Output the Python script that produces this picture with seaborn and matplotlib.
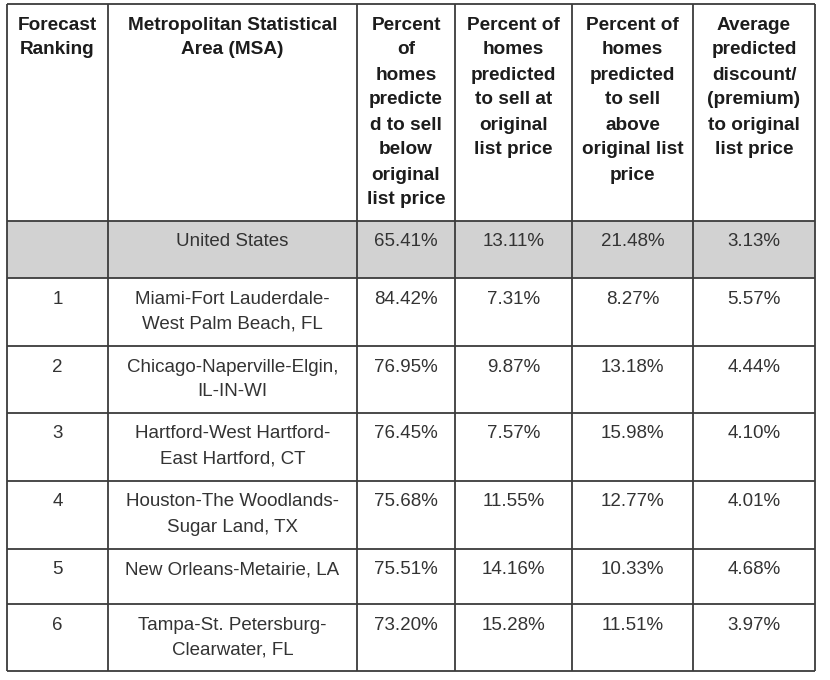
import matplotlib
matplotlib.use("Agg")
import matplotlib.pyplot as plt
import seaborn as sns

# -----------------------------
# Table data
# -----------------------------
headers = [
    "Forecast\nRanking",
    "Metropolitan Statistical\nArea (MSA)",
    "Percent\nof\nhomes\npredicte\nd to sell\nbelow\noriginal\nlist price",
    "Percent of\nhomes\npredicted\nto sell at\noriginal\nlist price",
    "Percent of\nhomes\npredicted\nto sell\nabove\noriginal list\nprice",
    "Average\npredicted\ndiscount/\n(premium)\nto original\nlist price",
]
rankings = ["", "1", "2", "3", "4", "5", "6"]
msas = [
    "United States",
    "Miami-Fort Lauderdale-\nWest Palm Beach, FL",
    "Chicago-Naperville-Elgin,\nIL-IN-WI",
    "Hartford-West Hartford-\nEast Hartford, CT",
    "Houston-The Woodlands-\nSugar Land, TX",
    "New Orleans-Metairie, LA",
    "Tampa-St. Petersburg-\nClearwater, FL",
]
pct_below = [65.41, 84.42, 76.95, 76.45, 75.68, 75.51, 73.20]
pct_at = [13.11, 7.31, 9.87, 7.57, 11.55, 14.16, 15.28]
pct_above = [21.48, 8.27, 13.18, 15.98, 12.77, 10.33, 11.51]
avg_discount = [3.13, 5.57, 4.44, 4.10, 4.01, 4.68, 3.97]

# -----------------------------
# Layout (pixels)
# -----------------------------
col_edges = [7, 108, 357, 455, 572, 693, 815]
row_edges = [4, 221, 278, 346, 413, 481, 549, 604, 671]
line_step = 25
first_line = 21

sns.set_theme(style="white")
plt.rcParams["font.family"] = ["Liberation Sans", "DejaVu Sans"]

fig = plt.figure(figsize=(8.3, 6.8), dpi=100)
ax = fig.add_axes([0, 0, 1, 1])
ax.set_xlim(0, 830)
ax.set_ylim(680, 0)
ax.axis("off")

# shaded US row
ax.fill_between([col_edges[0], col_edges[-1]], row_edges[1], row_edges[2],
                color="#d2d2d2", zorder=0, linewidth=0)

# grid lines
line_kw = dict(color="#3c3c3c", linewidth=1.3, zorder=2)
ax.hlines(row_edges, col_edges[0], col_edges[-1], **line_kw)
ax.vlines(col_edges, row_edges[0], row_edges[-1], **line_kw)

centers = [(a + b) / 2 for a, b in zip(col_edges[:-1], col_edges[1:])]


def put_cell(col, top, text, bold=False, color="#333333", size=13.5):
    for i, line in enumerate(text.split("\n")):
        ax.text(centers[col], top + first_line + i * line_step, line,
                ha="center", va="center", fontsize=size, color=color,
                fontweight="bold" if bold else "normal", zorder=3)


# header
for c, h in enumerate(headers):
    put_cell(c, row_edges[0], h, bold=True, color="#1c1c1c", size=13.7)

# body rows
for r in range(len(msas)):
    top = row_edges[r + 1]
    values = [rankings[r], msas[r],
              f"{pct_below[r]:.2f}%", f"{pct_at[r]:.2f}%",
              f"{pct_above[r]:.2f}%", f"{avg_discount[r]:.2f}%"]
    for c, v in enumerate(values):
        put_cell(c, top, v)

fig.savefig("out.png", dpi=100, facecolor="white")
